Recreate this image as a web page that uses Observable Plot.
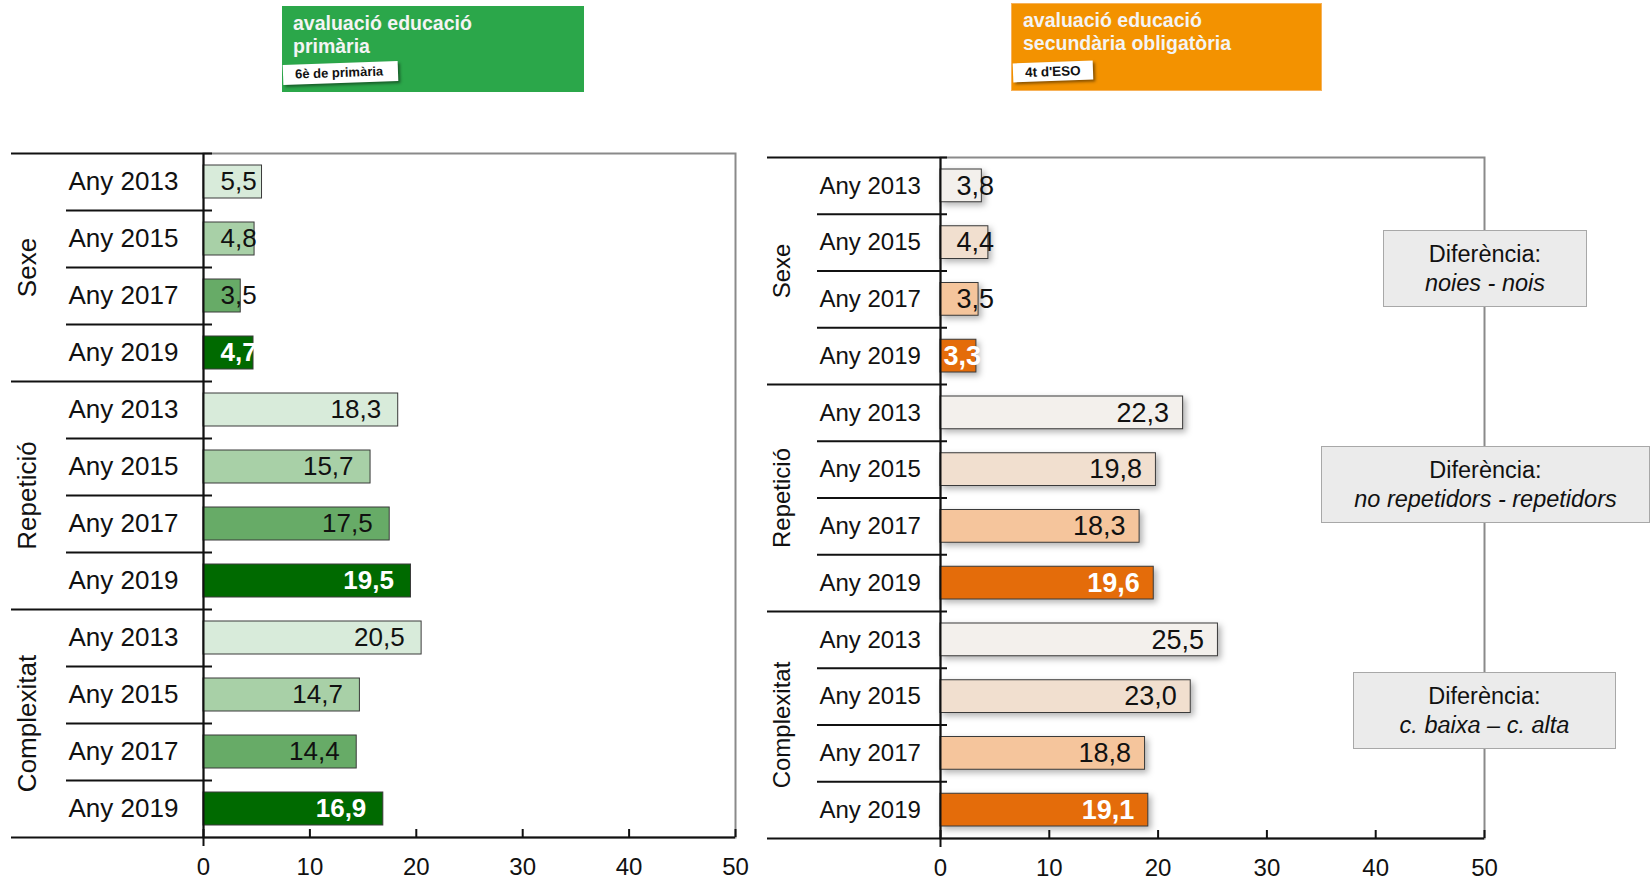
<!DOCTYPE html>
<html>
<head>
<meta charset="utf-8">
<script src="https://cdn.jsdelivr.net/npm/d3@7"></script>
<script src="https://cdn.jsdelivr.net/npm/@observablehq/plot@0.6"></script>
<style>
  body { margin: 0; background: #fff; }
  #page { position: relative; width: 1650px; height: 880px; overflow: hidden; background: #fff;
          font-family: "Liberation Sans", Arial, sans-serif; }
  .hdr { position: absolute; color: #f4f4f4; font-weight: bold; font-size: 19.5px; line-height: 23px; box-sizing: border-box; }
  .hdr .t { position: absolute; }
  .tag { position: absolute; background: #fff; color: #111; font-weight: bold; font-size: 13px; line-height: 20px;
         padding-left: 12px; box-sizing: border-box; box-shadow: 2px 2px 3px rgba(0,0,0,0.45); transform: rotate(-2deg); }
  .note { position: absolute; background: #ebebeb; border: 1.5px solid #a8a8a8; box-sizing: border-box;
          display: flex; flex-direction: column; justify-content: center; align-items: center;
          font-size: 23.5px; line-height: 29px; color: #111; z-index: 5; }
  .note i { font-style: italic; }
  .panel { position: absolute; top: 100px; }
</style>
</head>
<body>
<div id="page">
  <div class="hdr" style="left:282px;top:6px;width:302px;height:86px;background:#2ba74a;">
    <div class="t" style="left:11px;top:6px;">avaluació educació<br>primària</div>
  </div>
  <div class="tag" style="left:283px;top:63px;width:115px;height:20px;">6è de primària</div>
  <div class="hdr" style="left:1011px;top:3px;width:311px;height:88px;background:#f39200;border:1px solid #f7b25a;">
    <div class="t" style="left:11px;top:5px;">avaluació educació<br>secundària obligatòria</div>
  </div>
  <div class="tag" style="left:1013px;top:62px;width:80px;height:19px;font-size:13.5px;line-height:19px;">4t d'ESO</div>

  <div id="left" class="panel" style="left:0px;"></div>
  <div id="right" class="panel" style="left:760px;"></div>

  <div class="note" style="left:1383px;top:230px;width:204px;height:77px;"><span>Diferència:</span><i>noies - nois</i></div>
  <div class="note" style="left:1321px;top:446px;width:329px;height:77px;"><span>Diferència:</span><i>no repetidors - repetidors</i></div>
  <div class="note" style="left:1353px;top:672px;width:263px;height:77px;"><span>Diferència:</span><i>c. baixa – c. alta</i></div>
</div>
<script>
// ---------- data ----------
const groups = ["Sexe", "Repetició", "Complexitat"];
const years = ["Any 2013", "Any 2015", "Any 2017", "Any 2019"];
const primaria = [5.5, 4.8, 3.5, 4.7, 18.3, 15.7, 17.5, 19.5, 20.5, 14.7, 14.4, 16.9];
const eso = [3.8, 4.4, 3.5, 3.3, 22.3, 19.8, 18.3, 19.6, 25.5, 23.0, 18.8, 19.1];
const xTicks = [0, 10, 20, 30, 40, 50];
const greenShades = ["#d8ebda", "#a8d0a7", "#67ab67", "#006a00"];
const orangeShades = ["#f3f0ec", "#f1dfcf", "#f5c59c", "#e46c0a"];

const fmt = v => v.toFixed(1).replace(".", ",");

function panel(values, shades, cfg) {
  const rows = [];
  groups.forEach((g, gi) => years.forEach((yr, yi) =>
    rows.push({group: g, year: yr, key: g + "|" + yr, value: values[gi * years.length + yi], gi, yi})));
  const last = rows[rows.length - 1].key;
  const step = (cfg.height - cfg.marginTop - cfg.marginBottom) / rows.length;
  const isLast = d => d.yi === years.length - 1;
  const small = d => d.value < cfg.smallLimit;
  const labelMarks = [];
  for (const bold of [false, true]) {
    const base = {y: "key", text: d => fmt(d.value), fontSize: cfg.valueFont,
      fill: bold ? "white" : "#111", fontWeight: bold ? "bold" : "normal"};
    labelMarks.push(Plot.text(rows.filter(d => isLast(d) === bold && !small(d)),
      {...base, x: "value", textAnchor: "end", dx: cfg.valueDx}));
    labelMarks.push(Plot.text(rows.filter(d => isLast(d) === bold && small(d)),
      {...base, frameAnchor: "left", textAnchor: "start", dx: bold ? cfg.smallDxLast : cfg.smallDx}));
  }
  return Plot.plot({
    width: cfg.width, height: cfg.height,
    marginLeft: cfg.marginLeft, marginRight: cfg.marginRight,
    marginTop: cfg.marginTop, marginBottom: cfg.marginBottom,
    style: {fontFamily: '"Liberation Sans", Arial, sans-serif', fontSize: "24px", color: "#111", background: "transparent"},
    x: {domain: [0, 50], label: null},
    y: {domain: rows.map(d => d.key), padding: 0, round: false, axis: null},
    color: {domain: years, range: shades},
    marks: [
      Plot.frame({stroke: "#8a8a8a", strokeWidth: 2}),
      Plot.barX(rows, {x: "value", y: "key", fill: "year", stroke: "#3a3a3a", strokeWidth: 1,
        insetTop: 12, insetBottom: 12}),
      // row separators (within groups)
      Plot.ruleY(rows.filter(d => d.yi > 0), {y: "key", x1: 0, x2: 0, dy: -step / 2,
        insetLeft: cfg.rowRuleLeft, insetRight: -cfg.ruleOver, stroke: "#111", strokeWidth: 2}),
      // group separators
      Plot.ruleY(rows.filter(d => d.yi === 0), {y: "key", x1: 0, x2: 0, dy: -step / 2,
        insetLeft: cfg.groupRuleLeft, insetRight: -cfg.ruleOver, stroke: "#111", strokeWidth: 2}),
      // bottom axis line
      Plot.ruleY([last], {y: d => d, x1: 0, x2: 50, dy: step / 2,
        insetLeft: cfg.groupRuleLeft, stroke: "#111", strokeWidth: 2}),
      Plot.ruleX([0], {insetBottom: -9, stroke: "#111", strokeWidth: 2}),
      Plot.axisX(xTicks, {anchor: "bottom", tickSize: -8, tickPadding: 28, strokeWidth: 2,
        fontSize: 24, label: null, tickFormat: d => String(d)}),
      // row labels
      Plot.text(rows, {y: "key", text: "year", frameAnchor: "left", textAnchor: "start",
        dx: cfg.rowLabelDx, fontSize: cfg.rowFont, fill: "#111"}),
      // group labels
      Plot.text(rows.filter(d => d.yi === 1), {y: "key", text: "group", frameAnchor: "left",
        textAnchor: "middle", dx: cfg.groupDx, dy: step / 2, rotate: -90, fontSize: cfg.groupFont, fill: "#111"}),
      ...labelMarks
    ]
  });
}

const leftPlot = panel(primaria, greenShades, {
  width: 760, height: 780, marginLeft: 203, marginRight: 25, marginTop: 53, marginBottom: 43,
  rowRuleLeft: -137, groupRuleLeft: -192, ruleOver: 9,
  rowLabelDx: -135, rowFont: 26, groupDx: -176, groupFont: 26,
  valueFont: 26, valueDx: -17, smallDx: 17, smallDxLast: 17, smallLimit: 8
});
document.getElementById("left").appendChild(leftPlot);

const rightPlot = panel(eso, orangeShades, {
  width: 890, height: 780, marginLeft: 180, marginRight: 166, marginTop: 57, marginBottom: 42,
  rowRuleLeft: -123, groupRuleLeft: -173, ruleOver: 7,
  rowLabelDx: -121, rowFont: 24, groupDx: -158, groupFont: 24,
  valueFont: 27, valueDx: -14, smallDx: 16, smallDxLast: 3, smallLimit: 8
});
d3.select(rightPlot).selectAll("g[aria-label='bar'] rect")
  .style("filter", "drop-shadow(3px 3px 3px rgba(0,0,0,0.3))");
document.getElementById("right").appendChild(rightPlot);
</script>
</body>
</html>
